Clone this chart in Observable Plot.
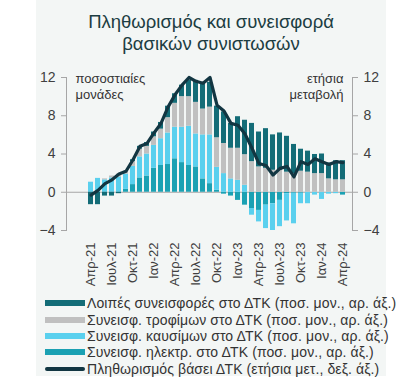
<!DOCTYPE html>
<html>
<head>
<meta charset="utf-8">
<script src="https://cdn.jsdelivr.net/npm/d3@7"></script>
<script src="https://cdn.jsdelivr.net/npm/@observablehq/plot@0.6"></script>
<style>
  html, body { margin: 0; padding: 0; background: #ffffff; }
  #wrap { position: relative; width: 396px; height: 392px; overflow: hidden; font-family: "Liberation Sans", Arial, sans-serif; }
  #panel { position: absolute; left: 36px; top: 0; width: 350px; height: 376px; background: #f3f6f5; }
  #title { position: absolute; left: 36px; top: 11px; width: 350px; text-align: center; font-size: 18.5px; line-height: 22px; color: #1c3d42; }
  #chart { position: absolute; left: 0; top: 58px; }
  #legend { position: absolute; left: 45px; top: 295px; font-size: 14px; letter-spacing: 0.1px; color: #333333; }
  .row { display: flex; align-items: center; height: 16.4px; white-space: nowrap; }
  .sw { width: 40px; height: 6px; margin-right: 2px; flex: none; }
  .ln { border-radius: 3px; height: 4px; }
</style>
</head>
<body>
<div id="wrap">
  <div id="panel"></div>
  <div id="title">Πληθωρισμός και συνεισφορά<br>βασικών συνιστωσών</div>
  <div id="chart"></div>
  <div id="legend"></div>
</div>
<script>
// Categories (monthly, Apr-21 .. Apr-24)
const months = ["Απρ-21","Μαΐ-21","Ιουν-21","Ιουλ-21","Αυγ-21","Σεπ-21","Οκτ-21","Νοε-21","Δεκ-21",
  "Ιαν-22","Φεβ-22","Μαρ-22","Απρ-22","Μαΐ-22","Ιουν-22","Ιουλ-22","Αυγ-22","Σεπ-22","Οκτ-22","Νοε-22","Δεκ-22",
  "Ιαν-23","Φεβ-23","Μαρ-23","Απρ-23","Μαΐ-23","Ιουν-23","Ιουλ-23","Αυγ-23","Σεπ-23","Οκτ-23","Νοε-23","Δεκ-23",
  "Ιαν-24","Φεβ-24","Μαρ-24","Απρ-24"];
const tickLabels = ["Απρ-21","Ιουλ-21","Οκτ-21","Ιαν-22","Απρ-22","Ιουλ-22","Οκτ-22","Ιαν-23","Απρ-23","Ιουλ-23","Οκτ-23","Ιαν-24","Απρ-24"];
const yTicks = [-4, 0, 4, 8, 12];

// Contributions (percentage points, left axis)
const electricity = [0,0,0,0,0,0.3,0.8,1.5,1.7,2.5,2.8,2.9,3.5,3.1,2.8,2.65,1.4,0.9,0.2,-0.2,-0.4,
  -0.85,-1.35,-1.7,-1.9,-1.35,-1.2,-0.85,-0.15,-0.1,-0.1,0,0,0,0,0,-0.3];
const fuel = [1.05,1.45,1.3,1.5,1.6,1.6,1.9,2.2,2.3,2.4,2.8,3.3,3.3,3.7,4.1,3.45,4.6,5.1,2.4,1.95,1.4,
  1.25,0.73,-0.7,-1.2,-2.45,-2.8,-2.75,-2.85,-3.2,-1.1,-1.2,-0.3,-0.75,-0.2,-0.15,0];
const food = [0,0,0.1,0.2,0.3,0.3,0.5,0.8,0.8,0.9,1.0,1.6,2.5,3.2,3.1,3.3,2.7,2.9,3.1,3.15,3.2,
  3.35,3.2,3.2,2.65,2.5,2.3,2.3,2.1,1.95,2.2,2.1,1.95,1.95,1.4,1.3,1.3];
const others = [-1.3,-1.3,-0.4,-0.4,-0.15,0,0.2,0.3,0.4,0.5,0.7,1.2,1.0,1.2,1.7,2.3,2.7,2.6,3.3,3.3,2.6,
  3.3,3.6,4.0,3.65,4.15,3.7,3.9,3.75,3.05,2.3,2.2,2.0,2.05,1.65,2.0,2.0];
// CPI inflation (annual change %, right axis)
const cpi = [-0.3,0.2,0.9,1.3,1.9,2.2,3.4,4.8,5.1,6.2,7.2,8.9,10.2,11.2,12.0,11.6,11.4,12.0,9.1,8.5,7.2,
  7.0,6.1,4.6,3.0,2.8,1.8,2.5,2.7,1.6,3.2,2.9,3.5,3.2,2.9,3.2,3.1];

const seriesKeys = ["elec","fuel","food","others"];
const seriesColors = ["#1ba1b3","#5ad0ee","#c0c0c0","#136c77"];
const lineColor = "#123642";
const axisGrey = "#a6a6a6";
const textGrey = "#404040";

const seriesValues = {elec: electricity, fuel: fuel, food: food, others: others};
const table = [];
months.forEach((m, i) => {
  for (const k of seriesKeys) table.push({month: m, series: k, value: seriesValues[k][i]});
});
const cpiRows = months.map((m, i) => ({month: m, value: cpi[i]}));

const chart = Plot.plot({
  width: 396,
  height: 232,
  marginTop: 19,
  marginBottom: 60,
  marginLeft: 66,
  marginRight: 44,
  style: {background: "transparent", fontFamily: "'Liberation Sans', Arial, sans-serif", color: textGrey},
  x: {type: "band", domain: months, paddingInner: 0.35, paddingOuter: 0.39, align: 0.75},
  y: {domain: [-4, 12]},
  color: {domain: seriesKeys, range: seriesColors},
  marks: [
    Plot.ruleY([0], {stroke: axisGrey, strokeWidth: 1}),
    Plot.barY(table, Plot.stackY({x: "month", y: "value", fill: "series", order: seriesKeys})),
    Plot.lineY(cpiRows, {x: "month", y: "value", stroke: lineColor, strokeWidth: 3.2}),
    Plot.frame({anchor: "left", stroke: axisGrey}),
    Plot.frame({anchor: "right", stroke: axisGrey}),
    Plot.axisY({anchor: "left", ticks: yTicks, tickSize: 5, tickPadding: 6, fontSize: 14, stroke: axisGrey, fill: textGrey, label: null}),
    Plot.axisY({anchor: "right", ticks: yTicks, tickSize: 5, tickPadding: 6, fontSize: 14, stroke: axisGrey, fill: textGrey, label: null}),
    Plot.axisX({ticks: tickLabels, tickRotate: -90, tickSize: 0, tickPadding: 12, fontSize: 13, fill: textGrey, label: null}),
    Plot.text(["ποσοστιαίες\nμονάδες"], {frameAnchor: "top-left", dx: 9, dy: -7, fontSize: 13, lineHeight: 1.3, fill: "#333333"}),
    Plot.text(["ετήσια\nμεταβολή"], {frameAnchor: "top-right", dx: -9, dy: -7, fontSize: 13, lineHeight: 1.3, fill: "#333333"})
  ]
});
document.getElementById("chart").appendChild(chart);

const legendItems = [
  {label: "Λοιπές συνεισφορές στο ΔΤΚ (ποσ. μον., αρ. άξ.)", color: seriesColors[3], line: false},
  {label: "Συνεισφ. τροφίμων στο ΔΤΚ (ποσ. μον., αρ. άξ.)", color: seriesColors[2], line: false},
  {label: "Συνεισφ. καυσίμων στο ΔΤΚ (ποσ. μον., αρ. άξ.)", color: seriesColors[1], line: false},
  {label: "Συνεισφ. ηλεκτρ. στο ΔΤΚ (ποσ. μον., αρ. άξ.)", color: seriesColors[0], line: false},
  {label: "Πληθωρισμός βάσει ΔΤΚ (ετήσια μετ., δεξ. άξ.)", color: lineColor, line: true}
];
const legend = document.getElementById("legend");
for (const it of legendItems) {
  const row = document.createElement("div");
  row.className = "row";
  const sw = document.createElement("div");
  sw.className = "sw" + (it.line ? " ln" : "");
  sw.style.background = it.color;
  const tx = document.createElement("span");
  tx.textContent = it.label;
  row.appendChild(sw);
  row.appendChild(tx);
  legend.appendChild(row);
}
</script>
</body>
</html>
